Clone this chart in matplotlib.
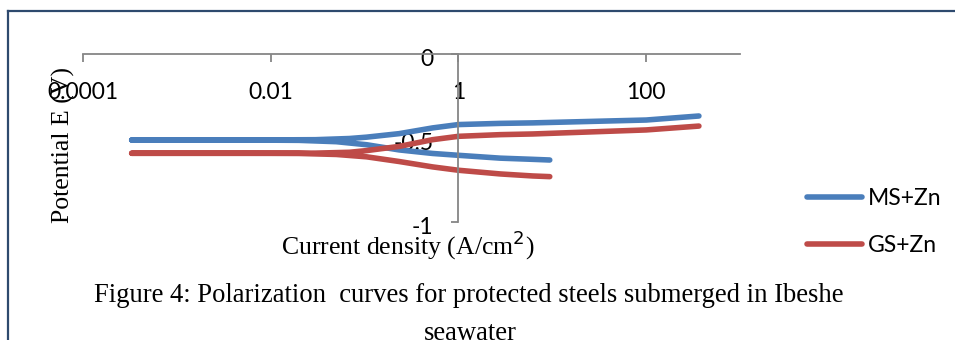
import matplotlib
matplotlib.use("Agg")
import matplotlib.pyplot as plt
from matplotlib.lines import Line2D
from matplotlib.transforms import ScaledTranslation

# data: current density (A/cm2) vs potential (V)
# each series: cathodic end -> flat region -> anodic end
ms_current = [9.4, 6.2, 2.8, 1.0, 0.53, 0.234, 0.105, 0.05, 0.02, 0.005, 3.3e-4,
              0.005, 0.03, 0.069, 0.105, 0.234, 0.53, 1.0, 2.8, 6.2, 100, 365]
ms_potential = [-0.631, -0.627, -0.62, -0.603, -0.592, -0.571, -0.54, -0.522, -0.514, -0.512, -0.512,
                -0.512, -0.51, -0.503, -0.495, -0.474, -0.44, -0.42, -0.413, -0.41, -0.393, -0.369]

gs_current = [9.4, 6.2, 2.8, 1.0, 0.53, 0.234, 0.105, 0.05, 0.02, 0.005, 3.3e-4,
              0.005, 0.03, 0.069, 0.105, 0.234, 0.53, 1.0, 2.8, 6.2, 100, 365]
gs_potential = [-0.730, -0.726, -0.714, -0.692, -0.672, -0.64, -0.612, -0.598, -0.592, -0.591, -0.591,
                -0.591, -0.59, -0.585, -0.575, -0.55, -0.51, -0.49, -0.48, -0.476, -0.452, -0.429]

xticks = [1e-4, 1e-2, 1, 100]
xtick_labels = ["0.0001", "0.01", "1", "100"]
yticks = [0, -0.5, -1]
ytick_labels = ["0", "-0.5", "-1"]

blue = "#4A7EBB"
red = "#BE4B48"
axis_grey = "#868686"
serif = "Liberation Serif"
sans = "Lato"

fig = plt.figure(figsize=(9.55, 3.4), dpi=100)
ax = fig.add_axes([83 / 955, 1 - 222 / 340, (740 - 83) / 955, (222 - 54) / 340])

ax.plot(ms_current, ms_potential, color=blue, lw=4.0, solid_capstyle="round",
        solid_joinstyle="round", label="MS+Zn")
ax.plot(gs_current, gs_potential, color=red, lw=4.0, solid_capstyle="round",
        solid_joinstyle="round", label="GS+Zn")

ax.set_xscale("log")
ax.set_xlim(1e-4, 1e3)
ax.set_ylim(-1, 0)
ax.set_xticks(xticks)
ax.set_xticklabels(xtick_labels)
ax.minorticks_off()
ax.set_yticks(yticks)
ax.set_yticklabels(ytick_labels)

# axes cross at E = 0 and i = 1
ax.spines["bottom"].set_position(("data", 0))
ax.spines["left"].set_position(("data", 1))
ax.spines["top"].set_visible(False)
ax.spines["right"].set_visible(False)
for s in ("bottom", "left"):
    ax.spines[s].set_color(axis_grey)
    ax.spines[s].set_linewidth(1.3)
ax.tick_params(axis="x", direction="out", length=6, width=1.3, color=axis_grey, pad=14,
               labelsize=16.5, labelfontfamily=sans)
ax.tick_params(axis="y", direction="out", length=5, width=1.3, color=axis_grey, pad=13,
               labelsize=16.5, labelfontfamily=sans)
shift = ScaledTranslation(0, -0.04, fig.dpi_scale_trans)
for lab in ax.get_yticklabels():
    lab.set_transform(lab.get_transform() + shift)
ax.patch.set_alpha(0)

fig.text(63 / 955, 1 - 145 / 340, "Potential E (V)", rotation=90, ha="center", va="center",
         fontfamily=serif, fontsize=18.5)
fig.text(408 / 955, 1 - 245 / 340, "Current density (A/cm$^{2}$)", ha="center", va="center",
         fontfamily=serif, fontsize=18.5)
fig.text(469 / 955, 1 - 295 / 340,
         "Figure 4: Polarization  curves for protected steels submerged in Ibeshe",
         ha="center", va="center", fontfamily=serif, fontsize=19.2)
fig.text(470 / 955, 1 - 333 / 340, "seawater", ha="center", va="center",
         fontfamily=serif, fontsize=19.2)

leg = fig.legend(loc="center left", bbox_to_anchor=(807 / 955, 1 - 222 / 340),
                 frameon=False, prop={"family": sans, "size": 16.5},
                 handlelength=2.4, handletextpad=0.26, labelspacing=1.15, borderpad=0,
                 borderaxespad=0)

# chart frame (top and left edges visible)
frame = "#2E4A6E"
fig.add_artist(Line2D([7.5 / 955, 1], [1 - 10.5 / 340, 1 - 10.5 / 340], color=frame, lw=1.6))
fig.add_artist(Line2D([7.5 / 955, 7.5 / 955], [1 - 10.5 / 340, 0], color=frame, lw=1.6))

fig.savefig("out.png", dpi=100)
